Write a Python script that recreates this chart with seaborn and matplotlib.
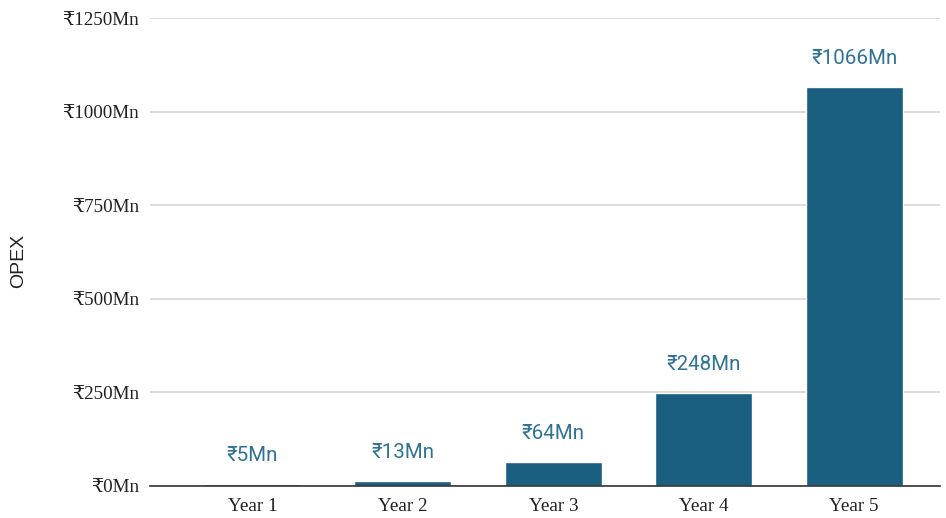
import matplotlib
matplotlib.use("Agg")
import matplotlib.pyplot as plt
import seaborn as sns
import pandas as pd

years = ["Year 1", "Year 2", "Year 3", "Year 4", "Year 5"]
opex = [5, 13, 64, 248, 1066]
yticks = [0, 250, 500, 750, 1000, 1250]

sns.set_theme(style="white")
plt.rcParams['font.family'] = ['Liberation Serif', 'DejaVu Serif', 'DejaVu Sans']

df = pd.DataFrame({"year": years, "opex": opex})
fig = plt.figure(figsize=(9.46, 5.18), dpi=100)
ax = fig.add_axes([0.1586, 0.0618, 0.835, 0.9032])

sns.barplot(data=df, x="year", y="opex", color="#1a5e80", saturation=1, width=0.645, ax=ax, zorder=3)

ax.set_ylim(0, 1250)
ax.set_xlim(-0.68, 4.57)
ax.set_yticks(yticks)
ax.set_yticklabels([f"₹{v}Mn" for v in yticks], fontsize=13.8, color="#222222")
ax.set_xticklabels(years, fontsize=13.8, color="#222222")
ax.tick_params(axis="y", length=0, pad=8)
ax.tick_params(axis="x", length=0, pad=9)
ax.grid(axis="y", color="#d6d6d6", linewidth=1.2, zorder=0)
for s in ["top", "right", "left"]:
    ax.spines[s].set_visible(False)
ax.spines["bottom"].set_color("#333333")
ax.spines["bottom"].set_linewidth(1.2)
ax.spines["bottom"].set_zorder(4)
ax.set_xlabel("")
ax.set_ylabel("OPEX", fontsize=14, family=["Liberation Sans", "DejaVu Sans"], color="#222222")
ax.yaxis.set_label_coords(-0.155, 0.48)

for i, v in enumerate(opex):
    ax.annotate(f"₹{v}Mn", (i, v), xytext=(0, 14), textcoords="offset points",
                ha="center", va="bottom", fontsize=14.8, color="#2f7396",
                family=["Roboto", "DejaVu Sans"])

fig.savefig("out.png", dpi=100)
